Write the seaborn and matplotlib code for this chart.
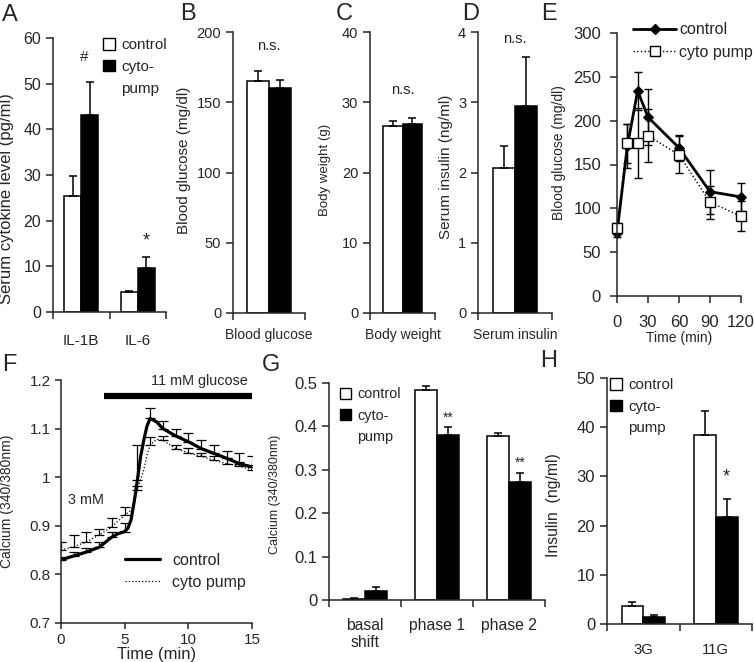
import numpy as np
import pandas as pd
import matplotlib
matplotlib.use("Agg")
import matplotlib.pyplot as plt
import seaborn as sns
from matplotlib.patches import Patch
from matplotlib.lines import Line2D
from matplotlib.ticker import FuncFormatter

# --- data ---
# A: serum cytokines
cytokines = ["IL-1B", "IL-6"]
cytokine_ctrl = [25.3, 4.3]
cytokine_ctrl_sem = [4.4, 0.2]
cytokine_pump = [43.2, 9.7]
cytokine_pump_sem = [7.1, 2.3]

# B-D: single measures (control, cyto-pump)
glucose_vals = [165, 160]
glucose_sem = [7, 6]
weight_vals = [26.6, 26.9]
weight_sem = [0.8, 0.9]
insulin_vals = [2.06, 2.94]
insulin_sem = [0.32, 0.71]

# E: glucose tolerance test
ogtt_time = [0, 10, 20, 30, 60, 90, 120]
ogtt_ctrl = [72, 171, 234, 204, 169, 119, 113]
ogtt_ctrl_sem = [5, 25, 22, 32, 15, 25, 16]
ogtt_pump = [78, 174, 175, 183, 161, 107, 91]
ogtt_pump_sem = [5, 22, 40, 30, 21, 19, 17]

# F: calcium traces
ca_time = [0, 1, 2, 3, 4, 4.5, 5, 5.25, 5.5, 5.75, 6, 6.25, 6.5, 6.75, 7, 7.5,
           8, 9, 10, 11, 12, 13, 14, 15]
ca_ctrl = [0.830, 0.838, 0.846, 0.856, 0.877, 0.884, 0.888, 0.895, 0.912, 0.950,
           0.994, 1.042, 1.076, 1.105, 1.121, 1.114, 1.100, 1.085, 1.073, 1.059,
           1.049, 1.039, 1.028, 1.021]
ca_pump = [0.850, 0.857, 0.867, 0.881, 0.898, 0.910, 0.922, 0.927, 0.932, 0.950,
           0.973, 0.995, 1.015, 1.045, 1.066, 1.078, 1.076, 1.059, 1.050, 1.043,
           1.035, 1.028, 1.023, 1.015]
ca_err_time = list(range(16))
ca_err_idx = [0, 1, 2, 3, 4, 6, 10, 14, 16, 17, 18, 19, 20, 21, 22, 23]
ca_ctrl_sem = [0.006, 0.008, 0.009, 0.011, 0.011, 0.017, 0.073, 0.021, 0.016,
               0.015, 0.017, 0.017, 0.017, 0.015, 0.021, 0.022]
ca_pump_sem = [0.016, 0.024, 0.021, 0.013, 0.019, 0.017, 0.008, 0.017, 0.009,
               0.007, 0.010, 0.007, 0.008, 0.011, 0.009, 0.010]
glucose_window = (3.4, 15)

# G: calcium response phases
phases = ["basal\nshift", "phase 1", "phase 2"]
phase_ctrl = [0.002, 0.483, 0.377]
phase_ctrl_sem = [0.003, 0.010, 0.007]
phase_pump = [0.020, 0.380, 0.272]
phase_pump_sem = [0.010, 0.018, 0.020]

# H: insulin secretion
glc_conds = ["3G", "11G"]
secr_ctrl = [3.6, 38.5]
secr_ctrl_sem = [0.9, 4.8]
secr_pump = [1.5, 21.8]
secr_pump_sem = [0.4, 3.6]

sns.set_style("ticks")
plt.rcParams["font.family"] = ["Liberation Sans", "DejaVu Sans"]
plt.rcParams["axes.linewidth"] = 1.1
plt.rcParams["xtick.major.width"] = 1.1
plt.rcParams["ytick.major.width"] = 1.1

W, H = 754, 662
fig = plt.figure(figsize=(W / 100, H / 100), dpi=100)


def box(x0, y0, x1, y1):
    return [x0 / W, 1 - y1 / H, (x1 - x0) / W, (y1 - y0) / H]


def ylabel_at(ax, text, right_px, center_px, size):
    ax.set_ylabel(text, fontsize=size)
    ax.yaxis.set_label_coords(right_px / W, 1 - center_px / H, transform=fig.transFigure)


def bar_panel(ax, cats, ctrl, ctrl_sem, pump, pump_sem, fs, pad):
    df = pd.DataFrame({
        "cat": list(cats) * 2,
        "val": list(ctrl) + list(pump),
        "grp": ["control"] * len(cats) + ["cyto-pump"] * len(cats),
    })
    sns.barplot(data=df, x="cat", y="val", hue="grp",
                palette={"control": "white", "cyto-pump": "black"},
                edgecolor="black", linewidth=1.1, width=0.6,
                errorbar=None, legend=False, ax=ax)
    for cont, sem in zip(ax.containers, [ctrl_sem, pump_sem]):
        for bar, e in zip(cont, sem):
            x = bar.get_x() + bar.get_width() / 2
            ax.errorbar(x, bar.get_height(), yerr=[[0], [e]], fmt="none",
                        ecolor="black", elinewidth=1.1, capsize=2.8, capthick=1.1)
    n = len(cats)
    ax.set_xlim(-0.5, n - 0.5)
    ax.set_xticks(np.arange(n + 1) - 0.5, minor=True)
    ax.tick_params(axis="x", which="major", length=0, pad=pad, labelsize=fs)
    ax.tick_params(axis="x", which="minor", length=5, width=1.1, direction="out")
    ax.set_xlabel("")
    sns.despine(ax=ax)


def square_legend(ax, x, y, fs):
    # the second label wraps onto a row with no swatch, as in the original
    handles = [Patch(facecolor="white", edgecolor="black", lw=1),
               Patch(facecolor="black", edgecolor="black", lw=1),
               Patch(facecolor="none", edgecolor="none")]
    ax.legend(handles, ["control", "cyto-", "pump"], loc="upper left",
              bbox_to_anchor=(x, y), frameon=False, fontsize=fs,
              handlelength=0.8, handleheight=0.8, handletextpad=0.4,
              borderpad=0, borderaxespad=0, labelspacing=0.5)


g_fmt = FuncFormatter(lambda v, p: f"{v:g}")

# A
axA = fig.add_axes(box(53, 38, 166, 312))
bar_panel(axA, cytokines, cytokine_ctrl, cytokine_ctrl_sem,
          cytokine_pump, cytokine_pump_sem, 11, 15.5)
axA.set_ylim(0, 60)
axA.set_yticks(range(0, 61, 10))
axA.tick_params(axis="y", labelsize=11.5, length=5)
ylabel_at(axA, "Serum cytokine level (pg/ml)", 14, 199, 12)
axA.text(0.05, 55.8, "#", ha="center", va="center", fontsize=11)
axA.text(1.15, 15.5, "*", ha="center", va="center", fontsize=13)
square_legend(axA, 0.44, 1.0, 11)

# B, C, D
single = [
    ("Blood glucose", glucose_vals, glucose_sem, (233, 32, 305, 313), 200, 50,
     "Blood glucose (mg/dl)", 191, 160, 11, 190),
    ("Body weight", weight_vals, weight_sem, (370, 32, 435, 313), 40, 10,
     "Body weight (g)", 331, 170, 9.5, 31.7),
    ("Serum insulin", insulin_vals, insulin_sem, (478, 32, 552, 313), 4, 1,
     "Serum insulin (ng/ml)", 453, 167, 11, 3.9),
]
for name, vals, sem, pos, top, step, ylab, rx, cy, yfs, ns_y in single:
    ax = fig.add_axes(box(*pos))
    bar_panel(ax, [name], [vals[0]], [sem[0]], [vals[1]], [sem[1]], 10, 11)
    ax.set_ylim(0, top)
    ax.set_yticks(np.arange(0, top + step / 2, step))
    ax.yaxis.set_major_formatter(g_fmt)
    ax.tick_params(axis="y", labelsize=10.5, length=5)
    ylabel_at(ax, ylab, rx, cy, yfs)
    ax.text(0, ns_y, "n.s.", ha="center", va="center", fontsize=10.5)

# E
axE = fig.add_axes(box(617, 33, 741, 296))
sns.lineplot(x=ogtt_time, y=ogtt_ctrl, color="black", lw=2, marker="D",
             markersize=5.5, markeredgecolor="black", ax=axE, clip_on=False)
axE.errorbar(ogtt_time, ogtt_ctrl, yerr=ogtt_ctrl_sem, fmt="none", ecolor="black",
             elinewidth=1, capsize=3, capthick=1, clip_on=False)
axE.errorbar(ogtt_time, ogtt_pump, yerr=ogtt_pump_sem, fmt="none", ecolor="black",
             elinewidth=1, capsize=3, capthick=1, clip_on=False)
sns.lineplot(x=ogtt_time, y=ogtt_pump, color="black", lw=1, linestyle=":",
             marker="s", markersize=7, markerfacecolor="white",
             markeredgecolor="black", markeredgewidth=1, ax=axE, clip_on=False)
axE.set_xlim(0, 120)
axE.set_ylim(0, 300)
axE.set_xticks(range(0, 121, 30))
axE.set_yticks(range(0, 301, 50))
axE.tick_params(axis="both", labelsize=12, length=5)
axE.tick_params(axis="x", pad=8.5)
axE.tick_params(axis="y", pad=6.5)
axE.set_xlabel("Time (min)", fontsize=10, labelpad=1)
ylabel_at(axE, "Blood glucose (mg/dl)", 566, 153, 10)
sns.despine(ax=axE)
axE.legend([Line2D([], [], color="black", lw=2, marker="D", markersize=5.5),
            Line2D([], [], color="black", lw=1, linestyle=":", marker="s",
                   markersize=7, markerfacecolor="white")],
           ["control", "cyto pump"], loc="upper left", bbox_to_anchor=(0.13, 1.04),
           frameon=False, fontsize=11.5, handlelength=2.7, handletextpad=0.2,
           borderpad=0, borderaxespad=0, labelspacing=0.45)

# F
axF = fig.add_axes(box(61, 380, 252, 623))
sns.lineplot(x=ca_time, y=ca_ctrl, color="black", lw=2.3, ax=axF)
sns.lineplot(x=ca_time, y=ca_pump, color="black", lw=0.9, linestyle=":", ax=axF)
axF.errorbar(ca_err_time, [ca_ctrl[i] for i in ca_err_idx],
             yerr=[[0] * 16, ca_ctrl_sem], fmt="none", ecolor="black",
             elinewidth=0.9, capsize=3.5, capthick=0.9)
axF.errorbar(ca_err_time, [ca_pump[i] for i in ca_err_idx],
             yerr=[[0] * 16, ca_pump_sem], fmt="none", ecolor="black",
             elinewidth=0.9, capsize=3.5, capthick=0.9)
axF.plot(glucose_window, [1.168, 1.168], color="black", lw=4.5,
         solid_capstyle="butt", clip_on=False)
axF.text(10.85, 1.198, "11 mM glucose", ha="center", va="center", fontsize=10.4)
axF.text(0.55, 0.953, "3 mM", ha="left", va="center", fontsize=10.4)
axF.set_xlim(0, 15)
axF.set_ylim(0.7, 1.2)
axF.set_xticks([0, 5, 10, 15])
axF.set_yticks([0.7, 0.8, 0.9, 1.0, 1.1, 1.2])
axF.yaxis.set_major_formatter(g_fmt)
axF.tick_params(axis="both", labelsize=11, length=4)
axF.tick_params(axis="x", pad=3)
axF.set_xlabel("Time (min)", fontsize=12, labelpad=0)
ylabel_at(axF, "Calcium (340/380nm)", 14, 501, 10)
sns.despine(ax=axF)
axF.legend([Line2D([], [], color="black", lw=2.3),
            Line2D([], [], color="black", lw=0.9, linestyle=":")],
           ["control", "cyto pump"], loc="upper left", bbox_to_anchor=(0.335, 0.29),
           frameon=False, fontsize=11.5, handlelength=2.2, handletextpad=0.75,
           borderpad=0, borderaxespad=0, labelspacing=0.45)

# G
axG = fig.add_axes(box(329, 383, 545, 600))
bar_panel(axG, phases, phase_ctrl, phase_ctrl_sem, phase_pump, phase_pump_sem, 11.3, 13)
axG.set_ylim(0, 0.5)
axG.set_yticks(np.arange(0, 0.51, 0.1))
axG.yaxis.set_major_formatter(g_fmt)
axG.tick_params(axis="y", labelsize=12, length=5)
ylabel_at(axG, "Calcium (340/380nm)", 281, 494, 9)
axG.text(1.15, 0.419, "**", ha="center", va="center", fontsize=10)
axG.text(2.15, 0.316, "**", ha="center", va="center", fontsize=10)
square_legend(axG, 0.05, 0.98, 10.4)

# H
axH = fig.add_axes(box(607, 378, 752, 624))
bar_panel(axH, glc_conds, secr_ctrl, secr_ctrl_sem, secr_pump, secr_pump_sem, 10.7, 13.5)
axH.set_ylim(0, 50)
axH.set_yticks(range(0, 51, 10))
axH.tick_params(axis="y", labelsize=12, length=5)
ylabel_at(axH, "Insulin  (ng/ml)", 561, 505, 11.3)
axH.text(1.15, 29.9, "*", ha="center", va="center", fontsize=13)
square_legend(axH, 0.02, 1.0, 10.8)

# panel letters
for letter, x, y in [("A", 2, 4), ("B", 180, 3), ("C", 336, 3), ("D", 462, 3),
                     ("E", 541, 3), ("F", 2, 354), ("G", 262, 354), ("H", 540, 350)]:
    fig.text(x / W, 1 - y / H, letter, ha="left", va="top", fontsize=17)

fig.savefig("out.png", dpi=100)
